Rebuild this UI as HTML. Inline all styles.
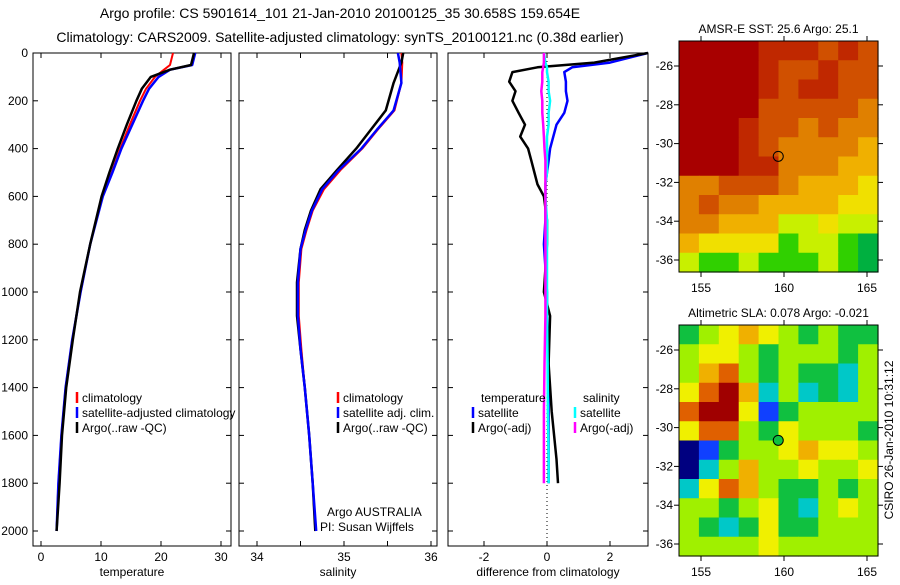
<!DOCTYPE html>
<html><head><meta charset="utf-8"><style>
body{margin:0;background:#fff}
svg text{font-family:"Liberation Sans",sans-serif;font-size:12px;fill:#000}
svg text.ttl{font-size:14px}
</style></head><body>
<svg id="c" width="900" height="580" xmlns="http://www.w3.org/2000/svg">
<text class="ttl" x="340" y="18" text-anchor="middle">Argo profile: CS 5901614_101 21-Jan-2010 20100125_35 30.658S 159.654E</text>
<text class="ttl" x="340" y="42" text-anchor="middle">Climatology: CARS2009. Satellite-adjusted climatology: synTS_20100121.nc (0.38d earlier)</text>
<g id="g"></g>
</svg>
<script>
// ---- data ----
const depths = [0,50,70,100,150,200,300,400,500,600,800,1000,1200,1400,1600,1800,2000];
const tempClim = [22,21.5,20.5,19,17.5,16.5,14.8,13.2,11.8,10.2,8.2,6.6,5.2,4.1,3.4,2.9,2.6];
const tempSat  = [25.7,25.2,21.5,19.6,18,17,15.2,13.4,11.9,10.3,8.2,6.6,5.2,4.1,3.4,2.9,2.6];
const tempArgo = [25.5,25,21.5,18.3,16.8,15.9,14.3,12.8,11.4,10.1,8.2,6.5,5.3,4.2,3.5,3.1,2.6];
const salDepths = [0,40,125,240,320,400,490,570,660,740,820,960,1100,1240,1400,1600,1800,2000];
const salClim = [35.66,35.67,35.66,35.58,35.39,35.21,34.96,34.77,34.64,34.57,34.51,34.48,34.48,34.51,34.55,34.6,34.64,34.67];
const salSat  = [35.62,35.64,35.66,35.57,35.38,35.2,34.94,34.75,34.63,34.56,34.5,34.47,34.47,34.5,34.55,34.6,34.64,34.68];
const salArgo = [35.68,35.66,35.57,35.48,35.31,35.14,34.92,34.73,34.62,34.55,34.5,34.46,34.46,34.5,34.55,34.6,34.64,34.67];
const diffDepths = [0,40,60,80,120,160,200,250,300,350,400,450,500,550,600,700,800,1000,1100,1300,1500,1700,1800];
const dTArgo = [3.5,1.5,-0.3,-1.1,-1.2,-1.0,-1.1,-0.9,-0.7,-0.85,-0.6,-0.5,-0.4,-0.3,-0.1,0,0,-0.1,0.1,0.05,0.15,0.3,0.35];
const dTSat  = [3.2,2,0.8,0.55,0.6,0.6,0.65,0.55,0.3,0.2,0.1,0.05,0,-0.05,-0.05,-0.05,-0.1,0,0,0.05,0.05,0.05,0.05];
const dSSat  = [-0.1,-0.05,0,0,0.05,0.05,0.1,0.05,0.05,0,0,0,0,-0.05,-0.05,0,0,0,0,0.02,0.03,0.05,0.05];
const dSArgo = [-0.1,-0.1,-0.12,-0.15,-0.15,-0.18,-0.15,-0.15,-0.12,-0.1,-0.08,-0.05,-0.05,-0.05,-0.05,-0.05,-0.05,-0.05,-0.05,-0.08,-0.1,-0.1,-0.1];
const depthTicks = [0,200,400,600,800,1000,1200,1400,1600,1800,2000];
const tempTicks = [0,10,20,30];
const salTicks = [34,34.5,35,35.5,36];
const salLabels = ["34","","35","","36"];
const diffTicks = [-2,0,2];
const lonTicks = [155,160,165];
const latTicks = [-26,-28,-30,-32,-34,-36];
const sstGrid = [
[9,9,9,9,8,8,8,7,8,7],[9,9,9,9,8,7,7,8,7,7],[9,9,9,9,8,7,8,8,7,7],[9,9,9,9,7,7,7,7,7,6],
[9,9,9,8,7,7,6,7,6,6],[9,9,9,8,7,6,6,6,6,5],[9,9,9,8,8,6,6,6,5,5],[6,6,7,7,7,6,5,5,5,4],
[6,7,6,6,5,5,5,5,4,4],[6,6,5,5,5,3,3,4,3,3],[5,4,4,4,4,2,3,3,2,1],[3,2,2,3,2,2,2,3,2,1]];
const slaGrid = [
[3,4,5,6,5,4,3,4,3,3],[4,5,5,4,3,4,4,4,3,4],[4,6,7,4,3,4,3,3,2,4],[5,7,8,6,2,4,2,3,2,4],
[7,8,8,5,1,3,4,4,4,4],[5,7,7,4,3,5,4,4,4,3],[0,1,3,4,4,5,6,5,5,4],[0,2,4,6,4,4,5,4,4,5],
[2,5,7,6,4,3,3,4,3,4],[4,4,3,4,5,3,2,4,5,4],[4,3,2,3,5,3,3,4,4,4],[4,4,4,4,5,4,4,4,4,4]];
const sstColors = ["#00c8a0","#00b040","#30d000","#c8f000","#f0e000","#f0b000","#e08000","#d05000","#c02800","#a80000"];
const slaColors = ["#000080","#1040ff","#00c8c8","#10c040","#a0f000","#f0f000","#f0b000","#e06000","#a00000"];

const NS="http://www.w3.org/2000/svg", G=document.getElementById('g');
function el(t,a,p){const e=document.createElementNS(NS,t);for(const k in a)e.setAttribute(k,a[k]);(p||G).appendChild(e);return e;}
function txt(x,y,s,anchor,p){const e=el('text',{x:x,y:y,'text-anchor':anchor||'start'},p);e.textContent=s;return e;}

const Y0=53,Y1=546, yD=d=>53+d*0.239;
function panel(name,x0,x1,xs,ticks,labels,xlabel,showY){
  const g=el('g',{});
  
  
  const r=el('rect',{x:x0,y:Y0,width:x1-x0,height:Y1-Y0,fill:'none',stroke:'#000','stroke-width':1},g);
  
  
  ticks.forEach((t,i)=>{const x=xs(t);
    el('line',{x1:x,x2:x,y1:Y1,y2:Y1-5,stroke:'#000'},g);el('line',{x1:x,x2:x,y1:Y0,y2:Y0+5,stroke:'#000'},g);
    const l=txt(x,561,labels[i],'middle',g);
    
    });
  depthTicks.forEach(d=>{const y=yD(d);
    el('line',{x1:x0,x2:x0+5,y1:y,y2:y,stroke:'#000'},g);el('line',{x1:x1,x2:x1-5,y1:y,y2:y,stroke:'#000'},g);
    if(showY){const l=txt(28,y+4,String(d),'end',g);
      
      }});
  const xl=txt((x0+x1)/2,576,xlabel,'middle',g);
  
  
  return g;
}
function series(name,ds,vals,xs,color,w,x0,x1){
  const pts=ds.map((d,i)=>Math.max(x0,Math.min(x1,xs(vals[i]))).toFixed(1)+','+yD(d).toFixed(1)).join(' ');
  const p=el('polyline',{points:pts,fill:'none',stroke:color,'stroke-width':w,'stroke-linejoin':'round'});
  
  
}
function legend(items,x,y){
  items.forEach((it,i)=>{const yy=y+i*15;
    const m=el('line',{x1:x,x2:x,y1:yy-10,y2:yy+1,stroke:it[1],'stroke-width':2.5});
    
    
    const t=txt(x+5,yy,it[0]);
    
    });
}
// Panel 1 temperature
const xT=v=>41+v*6;
panel('temperature-panel',33,231,xT,tempTicks,tempTicks.map(String),'temperature',true);
series('temp-climatology',depths,tempClim,xT,'#ff0000',2,33,231);
series('temp-satellite',depths,tempSat,xT,'#0000ff',2.5,33,231);
series('temp-argo',depths,tempArgo,xT,'#000',2.5,33,231);
legend([['climatology','#ff0000'],['satellite-adjusted climatology','#0000ff'],['Argo(..raw -QC)','#000']],77,402);
// Panel 2 salinity
const xS=v=>257+(v-34)*87;
panel('salinity-panel',239,437,xS,salTicks,salLabels,'salinity',false);
series('sal-climatology',salDepths,salClim,xS,'#ff0000',2,239,437);
series('sal-argo',salDepths,salArgo,xS,'#000',2.5,239,437);
series('sal-satellite',salDepths,salSat,xS,'#0000ff',2.5,239,437);
legend([['climatology','#ff0000'],['satellite adj. clim.','#0000ff'],['Argo(..raw -QC)','#000']],338,402);
let t1=txt(327,516,'Argo AUSTRALIA');
let t2=txt(320,531,'PI: Susan Wijffels');
// Panel 3 difference
const xD=v=>547+v*31.5;
panel('difference-panel',448,648,xD,diffTicks,diffTicks.map(String),'difference from climatology',false);
const zl=el('line',{x1:xD(0),x2:xD(0),y1:Y0,y2:Y1,stroke:'#000','stroke-dasharray':'1,3'});

series('diff-temp-satellite',diffDepths,dTSat,xD,'#0000ff',2.5,448,648);
series('diff-temp-argo',diffDepths,dTArgo,xD,'#000',2.5,448,648);
series('diff-sal-satellite',diffDepths,dSSat,xD,'#00ffff',2.5,448,648);
series('diff-sal-argo',diffDepths,dSArgo,xD,'#ff00ff',2.5,448,648);
let t3=txt(481,402,'temperature');
let t4=txt(583,402,'salinity');
legend([['satellite','#0000ff'],['Argo(-adj)','#000']],473,417);
legend([['satellite','#00ffff'],['Argo(-adj)','#ff00ff']],575,417);
// Maps
function map(name,top,grid,colors,title,circleFill){
  const x0=679,x1=878,bot=top+231;
  const lonX=v=>701+(v-155)*16.6, latY=v=>top+25+(-26-v)*19.4;
  const g=el('g',{});
  
  
  const rows=grid.length, cols=grid[0].length, cw=(x1-x0)/cols, ch=(bot-top)/rows;
  grid.forEach((row,r)=>row.forEach((v,c)=>{
    const cell=el('rect',{x:x0+c*cw,y:top+r*ch,width:cw+0.6,height:ch+0.6,fill:colors[v]},g);
    
    }));
  el('rect',{x:x0,y:top,width:x1-x0,height:bot-top,fill:'none',stroke:'#000'},g);
  lonTicks.forEach(v=>{const x=lonX(v);el('line',{x1:x,x2:x,y1:bot,y2:bot+5,stroke:'#000'},g);el('line',{x1:x,x2:x,y1:top,y2:top-5,stroke:'#000'},g);
    const l=txt(x,bot+20,String(v),'middle',g);});
  latTicks.forEach(v=>{const y=latY(v);el('line',{x1:x0,x2:x0-5,y1:y,y2:y,stroke:'#000'},g);el('line',{x1:x1,x2:x1+5,y1:y,y2:y,stroke:'#000'},g);
    const l=txt(673,y+4,String(v),'end',g);});
  const c=el('circle',{cx:lonX(159.654),cy:latY(-30.658),r:5,fill:circleFill,stroke:'#000'},g);
  
  const t=txt((x0+x1)/2,top-8,title,'middle',g);
}
map('sst-map',41,sstGrid,sstColors,'AMSR-E SST: 25.6 Argo: 25.1','none');
map('sla-map',325,slaGrid,slaColors,'Altimetric SLA: 0.078 Argo: -0.021','#10c040');
const cs=txt(0,0,'CSIRO 26-Jan-2010 10:31:12','middle');
cs.setAttribute('transform','translate(893,440) rotate(-90)');


</script>
</body></html>
